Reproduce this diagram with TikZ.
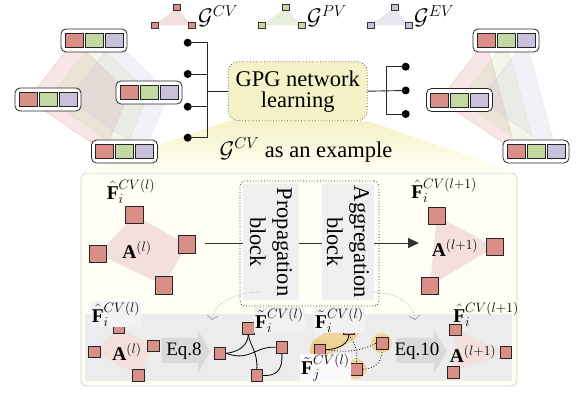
\RequirePackage{fix-cm}
\documentclass[tikz,border=0pt]{standalone}
\usepackage{fontspec}
\setmainfont{Liberation Serif}
\usetikzlibrary{arrows.meta}
\pgfdeclarelayer{back}
\pgfsetlayers{back,main}

\definecolor{cvred}{HTML}{D98E88}
\definecolor{pvgreen}{HTML}{C4D9A1}
\definecolor{evpurp}{HTML}{C9C1DC}
\definecolor{cvpale}{HTML}{F3DFDC}
\definecolor{pvpale}{HTML}{E9EFDF}
\definecolor{evpale}{HTML}{E8E6F0}
\definecolor{gpgyel}{HTML}{F5F2C7}
\definecolor{panelbg}{HTML}{FEFEF4}
\definecolor{bandgray}{HTML}{ECECEC}
\definecolor{blockgray}{HTML}{EFEFEF}
\definecolor{eqgray}{HTML}{D9D9D9}
\definecolor{hilite}{HTML}{F0CF8C}

\tikzset{
  fsq/.style={draw=black!85, line width=0.7pt, inner sep=0pt, minimum width=18pt, minimum height=14pt},
  grp/.style={draw=black!85, line width=0.8pt, rounded corners=5pt, fill=white, inner sep=0pt,
    minimum width=66pt, minimum height=23pt},
  fgroup/.pic={
    \node[grp] (-box) at (0,0) {};
    \node[fsq, fill=cvred]   (-r) at (-20,0) {};
    \node[fsq, fill=pvgreen] (-g) at (0,0) {};
    \node[fsq, fill=evpurp]  (-b) at (20,0) {};
  },
  tsq/.style={draw=black!80, line width=0.5pt, inner sep=0pt, minimum width=7pt, minimum height=6pt},
  csq/.style={draw=black!85, line width=0.7pt, fill=cvred, inner sep=0pt, minimum size=17.5pt},
  ssq/.style={draw=black!85, line width=0.7pt, fill=cvred, inner sep=0pt, minimum size=11.5pt},
  dot/.style={circle, fill=black, inner sep=0pt, minimum size=8pt},
  wire/.style={draw=black!85, line width=0.9pt},
  mlab/.style={inner sep=1pt, font=\fontsize{19.5}{20}\selectfont},
  lablite/.style={mlab, fill=black!5},
  eqlab/.style={font=\fontsize{19}{20}\selectfont, inner sep=0pt},
  blk/.style={fill=blockgray, inner sep=0pt, align=center, font=\fontsize{22.5}{27}\selectfont},
  link/.style={draw=black, line width=0.8pt},
  linkdot/.style={draw=black, line width=0.8pt, dotted},
  hint/.style={draw=black!40, dotted, line width=0.7pt, -{Straight Barb[length=4pt,width=11pt]}},
  halo/.style={hilite, opacity=0.85}
}

\begin{document}
\begin{tikzpicture}[x=1pt, y=-1pt, font=\fontsize{22.5}{22}\selectfont]
\useasboundingbox (0,0) rectangle (579,395);

% ---------- legend: the three view graphs ----------
\node[tsq, fill=cvred] (c1) at (176.7,7.5) {};
\node[tsq, fill=cvred] (c2) at (154.5,25.5) {};
\node[tsq, fill=cvred] (c3) at (191.5,25.5) {};
\node[anchor=west, inner sep=0pt] (lcv) at (198,16) {$\mathcal{G}^{CV}$};
\node[tsq, fill=pvgreen] (v1) at (285.7,7.5) {};
\node[tsq, fill=pvgreen] (v2) at (262,25.5) {};
\node[tsq, fill=pvgreen] (v3) at (301.5,25.5) {};
\node[anchor=west, inner sep=0pt] (lpv) at (307,16) {$\mathcal{G}^{PV}$};
\node[tsq, fill=evpurp] (e1) at (394.5,7.5) {};
\node[tsq, fill=evpurp] (e2) at (370.5,25.5) {};
\node[tsq, fill=evpurp] (e3) at (409,25.5) {};
\node[anchor=west, inner sep=0pt] (lev) at (414,16) {$\mathcal{G}^{EV}$};

% ---------- feature groups ----------
\pic (tl) at (94,40.5) {fgroup};
\pic (lf) at (48,99.5) {fgroup};
\pic (mr) at (149,92.5) {fgroup};
\pic (bt) at (124.5,151.5) {fgroup};
\pic (tr) at (506,40.5) {fgroup};
\pic (rm) at (459.5,100) {fgroup};
\pic (br) at (536,151.5) {fgroup};

% ---------- central learner ----------
\node[draw=black!70, dotted, line width=0.8pt, fill=gpgyel, rounded corners=10pt,
      minimum width=139pt, minimum height=59pt, align=center, inner sep=0pt]
      (gpg) at (297.8,91.2) {GPG network\\[-1pt]learning};

\node[dot] (dl1) at (187.7,42.7) {};
\node[dot] (dl2) at (187.7,74) {};
\node[dot] (dl3) at (187.7,106.7) {};
\node[dot] (dl4) at (187.7,137.7) {};
\coordinate (busl) at (207.7,90);
\draw[wire] (dl1.center) -| (busl |- dl4.center) -- (dl4.center);
\draw[wire] (dl2.center) -- (dl2.center -| busl);
\draw[wire] (dl3.center) -- (dl3.center -| busl);
\draw[wire] (gpg.west) -- (gpg.west -| busl);

\node[dot] (dr1) at (405.7,66.7) {};
\node[dot] (dr2) at (405.7,90.5) {};
\node[dot] (dr3) at (405.7,114) {};
\coordinate (busr) at (386.7,90);
\draw[wire] (dr1.center) -| (busr |- dr3.center) -- (dr3.center);
\draw[wire] (gpg.east) -- (dr2.center);

\node[inner sep=0pt] (ex) at (306,150) {$\mathcal{G}^{CV}$ as an example};

% ---------- detail panel ----------
\begin{pgfonlayer}{back}
\node[draw=black!18, line width=0.8pt, fill=panelbg, rounded corners=6pt,
      minimum width=436pt, minimum height=213pt, inner sep=0pt] (panel) at (299,279.5) {};
\end{pgfonlayer}

% upper row: one layer of the graph
\node[csq] (p1) at (134.5,215) {};
\node[csq] (p2) at (187,244.5) {};
\node[csq] (p3) at (164,285.5) {};
\node[csq] (p4) at (98,254) {};
\node[mlab] (fa) at (131,191) {$\hat{\mathbf{F}}_i^{CV(l)}$};
\node[mlab] (aa) at (137,250) {$\mathbf{A}^{(l)}$};

\coordinate (flowS) at (205,243);
\coordinate (flowE) at (419,243);
\draw[line width=0.9pt, draw=black!80, -{Triangle[length=11pt,width=10pt]}] (flowS) -- (flowE);

\node[draw=black!85, dotted, line width=0.8pt, rounded corners=5pt, minimum width=139pt,
      minimum height=125pt, inner sep=0pt] (frame) at (309.5,243.5) {};
\node[blk, rotate=-90, minimum width=116pt, minimum height=56pt] (prop) at (271,242) {Propagation\\block};
\node[blk, rotate=-90, minimum width=116pt, minimum height=52pt] (aggr) at (348,242) {Aggregation\\block};

\node[csq] (q1) at (436.8,216) {};
\node[csq] (q2) at (495,246.7) {};
\node[csq] (q3) at (430,285.7) {};
\node[mlab] (fb) at (444,190) {$\hat{\mathbf{F}}_i^{CV(l+1)}$};
\node[mlab] (ab) at (455,248) {$\mathbf{A}^{(l+1)}$};

% lower row: the two steps in detail
\node[ssq] (b1) at (119,327.5) {};
\node[ssq] (b2) at (153.5,346) {};
\node[ssq] (b3) at (138.5,375.5) {};
\node[ssq] (b4) at (94.5,352) {};
\node[lablite] (fc) at (116,314) {$\hat{\mathbf{F}}_i^{CV(l)}$};
\node[mlab] (ac) at (127,352) {$\mathbf{A}^{(l)}$};

\fill[eqgray] (161.7,338) -- (198,338) -- (198,330) -- (210,351.5) -- (198,373) -- (198,363) -- (161.7,363) -- cycle;
\node[eqlab] (eq8) at (184,351) {Eq.8};

\node[ssq] (g1) at (220,353.3) {};
\node[ssq] (g2) at (248.3,328.3) {};
\node[ssq] (g3) at (281.8,347.2) {};
\node[ssq] (g4) at (256.8,375.5) {};
\draw[link] (g1.east) .. controls (238,352) and (248,346) .. (g2.south);
\draw[link] (g1.east) .. controls (250,362) and (255,346) .. (g3.west);
\draw[link] (g2.south) .. controls (250,346) and (258,352) .. (g4.north);
\draw[link] (g3.south) .. controls (283,372) and (275,376) .. (g4.east);
\node[lablite, anchor=west] (fd) at (254,320) {$\tilde{\mathbf{F}}_i^{CV(l)}$};

\fill[halo] (319.8,349.7) circle (10.5pt);
\draw[halo, line width=21pt, line cap=round] (321,348) -- (348.7,330);
\fill[halo] (381.5,343.2) circle (10pt);
\fill[halo] (356.3,369) circle (10pt);
\node[ssq] (h1) at (319.8,349.7) {};
\node[ssq] (h2) at (348.7,328.7) {};
\node[ssq] (h3) at (382.2,343.2) {};
\node[ssq] (h4) at (356.3,369.2) {};
\draw[link] (h1.east) .. controls (340,349) and (349,343) .. (h2.south);
\draw[linkdot] (h1.east) .. controls (345,353) and (362,351) .. (h3.west);
\draw[linkdot] (h2.south) .. controls (355,343) and (358,352) .. (h4.north);
\draw[linkdot] (h3.south) .. controls (382,367) and (370,369) .. (h4.east);
\node[lablite, anchor=west] (fe) at (314,320) {$\tilde{\mathbf{F}}_i^{CV(l)}$};
\node[mlab, fill=black!2, anchor=west] (ff) at (300,368) {$\tilde{\mathbf{F}}_j^{CV(l)}$};

\fill[eqgray] (396.7,338) -- (434,338) -- (434,330) -- (446.7,351.5) -- (434,373) -- (434,363) -- (396.7,363) -- cycle;
\node[eqlab] (eq10) at (417,351) {Eq.10};

\node[ssq] (k1) at (455.5,329.7) {};
\node[ssq] (k2) at (505.8,352.2) {};
\node[ssq] (k3) at (453.3,372.2) {};
\node[mlab] (fg) at (486,314) {$\hat{\mathbf{F}}_i^{CV(l+1)}$};
\node[mlab] (ag) at (473,354) {$\mathbf{A}^{(l+1)}$};

\coordinate (hpS) at (260,292);
\coordinate (hpE) at (212,320);
\coordinate (haS) at (371.7,292);
\coordinate (haE) at (415,320);
\draw[hint] (hpS) .. controls (238,292) and (214,302) .. (hpE);
\draw[hint] (haS) .. controls (394,292) and (413,302) .. (haE);

% ---------- underlays ----------
\begin{pgfonlayer}{back}
  \shade[top color=gpgyel, bottom color=panelbg] (gpg.south west) -- (gpg.south east)
        -- (panel.north east) -- (panel.north west) -- cycle;
  \fill[cvpale] (c1.center) -- (c2.center) -- (c3.center) -- cycle;
  \fill[pvpale] (v1.center) -- (v2.center) -- (v3.center) -- cycle;
  \fill[evpale] (e1.center) -- (e2.center) -- (e3.center) -- cycle;
  \foreach \c/\k in {cvred/r, pvgreen/g, evpurp/b}{
    \filldraw[fill=\c, fill opacity=0.22, draw=\c, draw opacity=0.35, line width=0.6pt]
      (tl-\k.center) -- (mr-\k.center) -- (bt-\k.center) -- (lf-\k.center) -- cycle;
    \filldraw[fill=\c, fill opacity=0.22, draw=\c, draw opacity=0.35, line width=0.6pt]
      (tr-\k.center) -- (rm-\k.center) -- (br-\k.center) -- cycle;
  }
  \fill[bandgray] (85,314) rectangle (512,381);
  \fill[cvpale] (p1.center) -- (p2.center) -- (p3.center) -- (p4.center) -- cycle;
  \fill[cvpale] (q1.center) -- (q2.center) -- (q3.center) -- cycle;
  \fill[cvpale] (b1.center) -- (b2.center) -- (b3.center) -- (b4.center) -- cycle;
  \fill[cvpale] (k1.center) -- (k2.center) -- (k3.center) -- cycle;
\end{pgfonlayer}
\end{tikzpicture}
\end{document}
